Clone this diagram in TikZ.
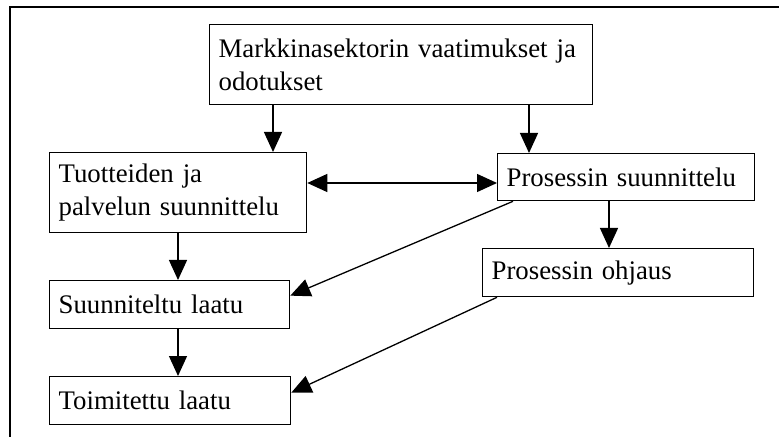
\documentclass[tikz,border=0pt]{standalone}
\usepackage{fontspec}
\setmainfont{Liberation Serif}
\usetikzlibrary{arrows.meta}
\begin{document}
\begin{tikzpicture}[x=0.5pt,y=-0.5pt,
  box/.style={draw, line width=0.65pt, anchor=north west, inner xsep=4.5pt, inner ysep=0pt, align=left, font=\fontsize{13.4pt}{16.5pt}\selectfont},
  arr/.style={line width=0.65pt, -{Triangle[length=10pt,width=9pt]}},
  darr/.style={line width=0.65pt, {Triangle[length=10pt,width=9pt]}-{Triangle[length=10pt,width=9pt]}}]
\useasboundingbox (0,0) rectangle (779,437);
\draw[line width=1pt] (10,437) -- (10,7) -- (779,7);
\node[box, minimum width=191.5pt, minimum height=40pt, text width=182.5pt] (M) at (209,24) {Markkinasektorin vaatimukset ja\\odotukset};
\node[box, minimum width=128.5pt, minimum height=40pt, text width=119.5pt] (T) at (49,152) {Tuotteiden ja\\palvelun suunnittelu};
\node[box, minimum width=128.5pt, minimum height=23.5pt, text width=119.5pt] (PS) at (497,153) {Prosessin suunnittelu};
\node[box, minimum width=135.5pt, minimum height=24pt, text width=126.5pt] (PO) at (482,248) {Prosessin ohjaus};
\node[box, minimum width=120pt, minimum height=24pt, text width=111pt] (SL) at (49,280) {Suunniteltu laatu};
\node[box, minimum width=120.5pt, minimum height=24pt, text width=111.5pt] (TL) at (49,376) {Toimitettu laatu};
\coordinate (xa) at (273,0);
\coordinate (xb) at (529,0);
\coordinate (xc) at (609,0);
\coordinate (xd) at (178,0);
\coordinate (hy) at (0,183);
\draw[arr] (M.south -| xa) -- (T.north -| xa);
\draw[arr] (M.south -| xb) -- (PS.north -| xb);
\draw[darr] (T.east |- hy) -- (PS.west |- hy);
\draw[arr] (T.south -| xd) -- (SL.north -| xd);
\draw[arr] (SL.south -| xd) -- (TL.north -| xd);
\draw[arr] (PS.south -| xc) -- (PO.north -| xc);
\draw[arr] ([xshift=8pt]PS.south west) -- ([yshift=4.5pt]SL.east);
\draw[arr] ([xshift=7.5pt]PO.south west) -- ([yshift=4pt]TL.east);
\end{tikzpicture}
\end{document}
